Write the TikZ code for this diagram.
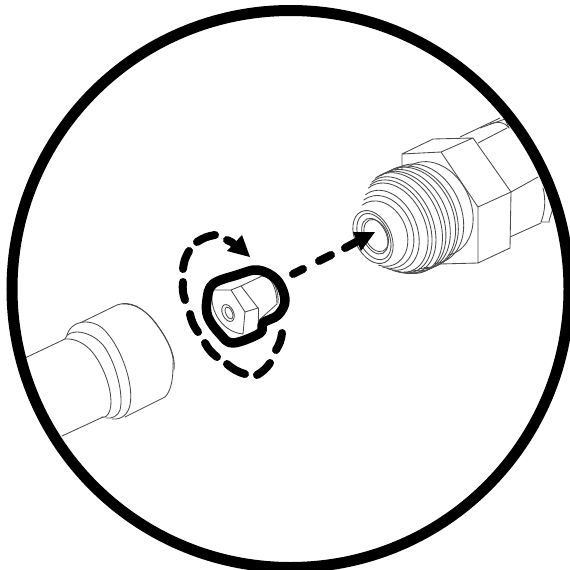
\documentclass[tikz,border=0pt]{standalone}
\usepackage{tikz}
\usetikzlibrary{calc}
\definecolor{inkline}{HTML}{4A4A4A}
\begin{document}
\begin{tikzpicture}[
  x=1pt, y=-1pt,
  part/.style={draw=inkline, line width=0.85pt, line join=round, line cap=round},
  ring/.style={part, fill=none},
  frame/.style={draw=black, line width=11pt},
  outline/.style={draw=black, line width=9.5pt, line join=round},
  dashpath/.style={draw=black, line width=8pt, line cap=round},
  headtip/.style={draw=none, fill=black}
]
  \useasboundingbox (0,0) rectangle (570,570);

  % Hose end, lower left
  \draw[part] (25,358) -- (65,339);
  \draw[part] (62,436) -- (103,417);
  \draw[part] (82,322) -- (117,305);
  \draw[part] (125,417) -- (165,397);
  \draw[part] (65,339) .. controls (76,338) and (87,345) .. (93,353)
     .. controls (105,368) and (114,395) .. (110,410)
     .. controls (108,416) and (105,418) .. (102,417);
  \draw[part] (65,339) .. controls (68,328) and (90,330) .. (103,345)
     .. controls (116,362) and (124,395) .. (120,410)
     .. controls (118,416) and (112,419) .. (106,418);
  \draw[part] (67,335) .. controls (72,318) and (96,318) .. (107,333)
     .. controls (122,350) and (134,385) .. (130,405)
     .. controls (128,414) and (122,420) .. (112,419);
  \draw[part] (117,305) .. controls (130,300) and (143,308) .. (153,320)
     .. controls (165,335) and (175,352) .. (173,367)
     .. controls (173,382) and (170,392) .. (165,397);
  \draw[part] (122,304) .. controls (135,303) and (146,311) .. (155,322)
     .. controls (167,338) and (176,355) .. (174,370);

  % Small fitting in the centre
  \draw[part] (213,290) -- (231,290) -- (245,312) -- (258,308) -- (241,286) -- (231,290);
  \draw[part] (245,312) -- (243,334);
  \draw[part] (258,308) -- (258,321);
  \draw[part] (213,290) .. controls (208,306) and (220,332) .. (243,334);
  \draw[part] (241,286) -- (262,276) .. controls (272,276) and (277,290) .. (277,304) -- (258,321);
  \draw[part] (264,275) .. controls (274,277) and (279,292) .. (278,303);
  \draw[ring, rotate around={25:(228,313)}] (228,313) ellipse [x radius=5.5, y radius=9];
  \draw[ring, rotate around={25:(229,313)}] (229,313) ellipse [x radius=3.2, y radius=6.5];
  \draw[outline] plot[smooth cycle, tension=0.6] coordinates {
    (207,300) (213,284) (237,275) (258,270) (277,280) (285,300)
    (278,315) (263,323) (260,333) (233,343) (220,334) (208,317)};

  % Hex nut of the large fitting
  \draw[part] (402,170) -- (402,154) -- (433,139) -- (473,138) -- (441,152) -- (402,154);
  \draw[part] (473,138) -- (511,192) -- (478,207) -- (441,152);
  \draw[part] (511,192) -- (510,248) -- (478,263) -- (478,207);
  \draw[part] (478,263) -- (440,264);

  % Body behind the nut
  \draw[part] (511,192) -- (538,177);
  \draw[part] (510,237) -- (541,223);
  \draw[part] (478,143) -- (507,128);
  \draw[part] (460,137) -- (500,118);
  \draw[part] (480,128) -- (505,119) -- (509,128);
  \draw[part] (490,124) .. controls (498,121) and (505,122) .. (509,128);
  \draw[part] (543,188) .. controls (546,200) and (545,212) .. (541,222) -- (550,222);
  \draw[part] (549,221) -- (553,208);

  % Threads and collars, in axis coordinates
  \begin{scope}[shift={(373,237)}, rotate=25, x=1pt, y=1pt]
    \foreach \dd/\aa/\bb/\sa in {
      8/26/34/-125, 12/28/38/-125, 16/29/42/-125, 22/32/47/-125, 25/33/49/-125,
      28/34/51/-125, 33/36/53/-122, 36/37/53/-120, 40/38/53/-118, 45/39/53/-115,
      48/39/53/-112, 55/38/52/-105, 67/37/49/-100}
      \draw[ring] ($(\dd,0)+(\sa:\aa pt and \bb pt)$) arc [x radius=\aa, y radius=\bb, start angle=\sa, end angle=100];
    \draw[ring] (0,0) ellipse [x radius=18, y radius=28];
    \draw[ring] (1,0) ellipse [x radius=15, y radius=24.5];
    \draw[ring] (2,0) ellipse [x radius=11.5, y radius=19];
    \draw[ring] (3.5,0) ellipse [x radius=11, y radius=17];
  \end{scope}

  % Rotation and insertion arrows
  \foreach \xa/\ya/\xb/\yb in {
    282/333/276/350, 270/363/257/375, 245/374/227/364, 217/357/205/343,
    198/332/190/314, 185/300/183/282, 183/269/189/251, 197/242/215/235,
    227/240/235/245}
    \draw[dashpath] (\xa,\ya) to[bend left=12] (\xb,\yb);
  \fill[headtip] (250,257) -- (242,235) -- (227,251) -- cycle;
  \foreach \xa/\ya/\xb/\yb in {293/274/303/269, 319/261/331/255, 345/248/358/241}
    \draw[dashpath] (\xa,\ya) -- (\xb,\yb);
  \fill[headtip] (375,232) -- (353,232) -- (361,251) -- cycle;

  % Round frame
  \draw[frame] (290.5,289) circle [radius=278.5];
\end{tikzpicture}
\end{document}
